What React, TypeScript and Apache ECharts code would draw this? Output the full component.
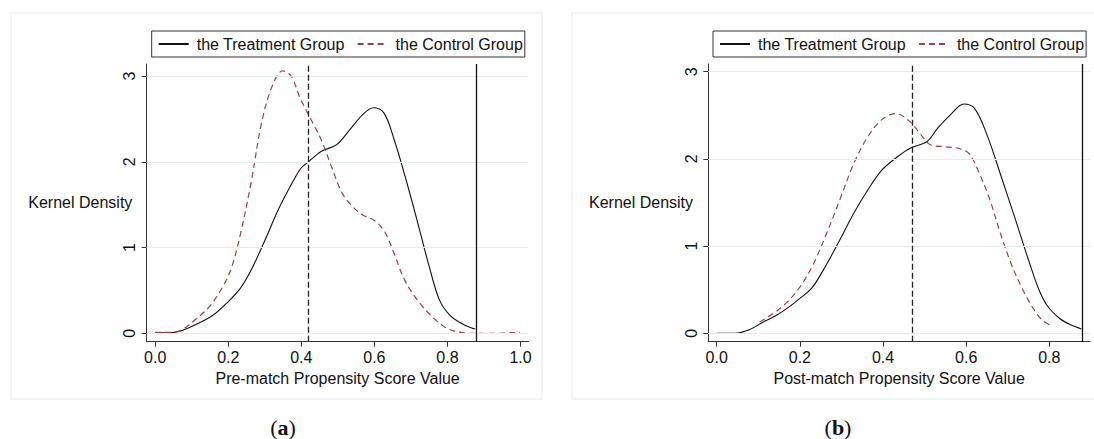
import React, { useEffect, useRef } from "react";
import * as echarts from "echarts";

// ---------- data ----------
const xTicksA = [0, 0.2, 0.4, 0.6, 0.8, 1.0];
const xTicksB = [0, 0.2, 0.4, 0.6, 0.8];
const yTicks = [0, 1, 2, 3];

const seriesNames = ["the Treatment Group", "the Control Group"];

// Panel (a): pre-match
const preTreatX = [0, 0.035, 0.072, 0.11, 0.158, 0.2, 0.234, 0.263, 0.301, 0.339, 0.377, 0.4, 0.417, 0.454, 0.497, 0.53, 0.568, 0.597, 0.626, 0.654, 0.688, 0.721, 0.75, 0.778, 0.807, 0.845, 0.876];
const preTreatY = [0.005, 0.005, 0.03, 0.1, 0.21, 0.37, 0.53, 0.74, 1.09, 1.46, 1.77, 1.93, 1.99, 2.12, 2.2, 2.36, 2.55, 2.63, 2.57, 2.26, 1.77, 1.25, 0.78, 0.39, 0.21, 0.1, 0.05];
const preCtrlX = [0, 0.043, 0.072, 0.11, 0.148, 0.186, 0.21, 0.234, 0.263, 0.291, 0.32, 0.349, 0.372, 0.396, 0.417, 0.454, 0.482, 0.511, 0.54, 0.568, 0.602, 0.63, 0.654, 0.683, 0.721, 0.759, 0.798, 0.836, 0.874, 0.93, 0.998];
const preCtrlY = [0.01, 0.01, 0.04, 0.16, 0.31, 0.55, 0.78, 1.17, 1.77, 2.45, 2.88, 3.06, 3.0, 2.75, 2.57, 2.26, 1.95, 1.64, 1.48, 1.38, 1.31, 1.17, 0.93, 0.62, 0.37, 0.19, 0.06, 0.01, 0.0, 0.0, 0.01];

// Panel (b): post-match
const postTreatX = [0, 0.044, 0.078, 0.112, 0.145, 0.179, 0.2, 0.229, 0.263, 0.296, 0.33, 0.363, 0.397, 0.431, 0.464, 0.506, 0.531, 0.565, 0.594, 0.62, 0.649, 0.682, 0.716, 0.75, 0.775, 0.796, 0.825, 0.85, 0.877];
const postTreatY = [0.0, 0.0, 0.04, 0.13, 0.21, 0.32, 0.4, 0.52, 0.78, 1.07, 1.38, 1.64, 1.87, 2.01, 2.12, 2.2, 2.35, 2.52, 2.63, 2.58, 2.29, 1.83, 1.34, 0.84, 0.5, 0.31, 0.17, 0.1, 0.05];
const postCtrlX = [0.103, 0.137, 0.17, 0.2, 0.229, 0.263, 0.296, 0.33, 0.363, 0.397, 0.431, 0.464, 0.489, 0.515, 0.548, 0.582, 0.607, 0.632, 0.657, 0.682, 0.708, 0.733, 0.758, 0.783, 0.808];
const postCtrlY = [0.13, 0.23, 0.36, 0.53, 0.76, 1.13, 1.53, 1.95, 2.25, 2.45, 2.52, 2.43, 2.29, 2.16, 2.14, 2.12, 2.06, 1.83, 1.53, 1.15, 0.8, 0.53, 0.31, 0.15, 0.08];

// reference lines
const preMeanLine = 0.4175;
const postMeanLine = 0.465;
const maxLine = 0.877;

const xTitleA = "Pre-match Propensity Score Value";
const xTitleB = "Post-match Propensity Score Value";
const yTitle = "Kernel Density";

// ---------- styling ----------
const FONT = "Liberation Sans, Arial, sans-serif";
const AXIS = "#333";
const TXT = "#111";
const RED = "#a23e48";
const GRIDC = "#e4eced";

const zip = (xs: number[], ys: number[]) => xs.map((x, i) => [x, ys[i]]);

function axisX(idx: number, min: number, max: number, ticks: number[], name: string) {
  return {
    type: "value",
    gridIndex: idx,
    min,
    max,
    name,
    nameLocation: "middle",
    nameGap: 26,
    nameTextStyle: { fontSize: 16, fontFamily: FONT, color: TXT },
    axisLine: { show: true, onZero: false, lineStyle: { color: AXIS, width: 1 } },
    axisTick: { show: true, length: 5, customValues: ticks, lineStyle: { color: AXIS } },
    axisLabel: {
      customValues: ticks,
      margin: 8,
      fontSize: 16,
      fontFamily: FONT,
      color: TXT,
      formatter: (v: number) => v.toFixed(1),
    },
    splitLine: { show: false },
  };
}

function axisY(idx: number, min: number, max: number) {
  return {
    type: "value",
    gridIndex: idx,
    min,
    max,
    axisLine: { show: true, onZero: false, lineStyle: { color: AXIS, width: 1 } },
    axisTick: { show: true, length: 5, customValues: yTicks, lineStyle: { color: AXIS } },
    axisLabel: {
      customValues: yTicks,
      rotate: 90,
      margin: 9,
      fontSize: 16,
      fontFamily: FONT,
      color: TXT,
      formatter: (v: number) => String(v),
    },
    splitLine: { show: false },
  };
}

function refSeries(idx: number, meanLine: number) {
  return {
    type: "line",
    xAxisIndex: idx,
    yAxisIndex: idx,
    data: [],
    z: 1,
    silent: true,
    markLine: {
      silent: true,
      symbol: ["none", "none"],
      label: { show: false },
      animation: false,
      data: [
        ...yTicks.map((v) => ({ yAxis: v, lineStyle: { color: GRIDC, width: 1, type: "solid" } })),
        { xAxis: meanLine, lineStyle: { color: "#222", width: 1.3, type: [6, 3] } },
        { xAxis: maxLine, lineStyle: { color: "#111", width: 1.3, type: "solid" } },
      ],
    },
  };
}

function curve(idx: number, name: string, data: number[][], dashed: boolean) {
  return {
    type: "line",
    name,
    xAxisIndex: idx,
    yAxisIndex: idx,
    data,
    smooth: 0.35,
    showSymbol: false,
    symbol: "none",
    z: 3,
    clip: true,
    color: dashed ? RED : "#111",
    lineStyle: dashed
      ? { color: RED, width: 1.2, type: [6, 4] }
      : { color: "#111", width: 1.1, type: "solid" },
  };
}

function legendAt(left: number) {
  return {
    left,
    top: 31,
    orient: "horizontal",
    data: seriesNames,
    itemWidth: 30,
    itemHeight: 12,
    itemGap: 12,
    padding: [5, 2, 5, 6],
    borderColor: "#333",
    borderWidth: 1,
    selectedMode: false,
    itemStyle: { opacity: 0 },
    textStyle: { fontSize: 16, fontFamily: FONT, color: TXT, padding: [0, 0, 0, 3] },
  };
}

function caption(letter: string, cx: number) {
  return {
    type: "text",
    x: cx,
    y: 427,
    style: {
      text: "{p|(}{b|" + letter + "}{p|)}",
      align: "center",
      verticalAlign: "middle",
      rich: {
        p: { fontSize: 22, fontFamily: "Liberation Serif, serif", fill: "#111" },
        b: { fontSize: 22, fontFamily: "Liberation Serif, serif", fontWeight: "bold", fill: "#111" },
      },
    },
  };
}

export default function App() {
  const ref = useRef<HTMLDivElement>(null);
  useEffect(() => {
    if (!ref.current) return;
    const chart = echarts.init(ref.current, undefined, { renderer: "svg" });
    const option: any = {
      animation: false,
      backgroundColor: "#ffffff",
      textStyle: { fontFamily: FONT },
      grid: [
        { left: 146.7, top: 64, width: 381.8, height: 277.7, outerBoundsMode: "none", containLabel: false },
        { left: 708.3, top: 64, width: 381.7, height: 277.7, outerBoundsMode: "none", containLabel: false },
      ],
      xAxis: [
        axisX(0, -0.0233, 1.0219, xTicksA, xTitleA),
        axisX(1, -0.0202, 0.8978, xTicksB, xTitleB),
      ],
      yAxis: [axisY(0, -0.098, 3.14), axisY(1, -0.0963, 3.088)],
      legend: [legendAt(151.7), legendAt(713)],
      series: [
        refSeries(0, preMeanLine),
        curve(0, seriesNames[0], zip(preTreatX, preTreatY), false),
        curve(0, seriesNames[1], zip(preCtrlX, preCtrlY), true),
        refSeries(1, postMeanLine),
        curve(1, seriesNames[0], zip(postTreatX, postTreatY), false),
        curve(1, seriesNames[1], zip(postCtrlX, postCtrlY), true),
      ],
      graphic: [
        { type: "rect", shape: { x: 11, y: 13, width: 531, height: 386 }, style: { fill: "none", stroke: "#e4ecec", lineWidth: 1 }, silent: true },
        { type: "rect", shape: { x: 572, y: 13, width: 531, height: 386 }, style: { fill: "none", stroke: "#e4ecec", lineWidth: 1 }, silent: true },
        { type: "text", x: 28.3, y: 202.3, style: { text: yTitle, fontSize: 16, fontFamily: FONT, fill: TXT, verticalAlign: "middle" } },
        { type: "text", x: 589, y: 202.3, style: { text: yTitle, fontSize: 16, fontFamily: FONT, fill: TXT, verticalAlign: "middle" } },
        caption("a", 283),
        caption("b", 838),
      ],
    };
    chart.setOption(option);
    return () => chart.dispose();
  }, []);
  return (
    <div
      ref={ref}
      style={{ position: "absolute", left: 0, top: 0, width: 1094, height: 439 }}
    />
  );
}
